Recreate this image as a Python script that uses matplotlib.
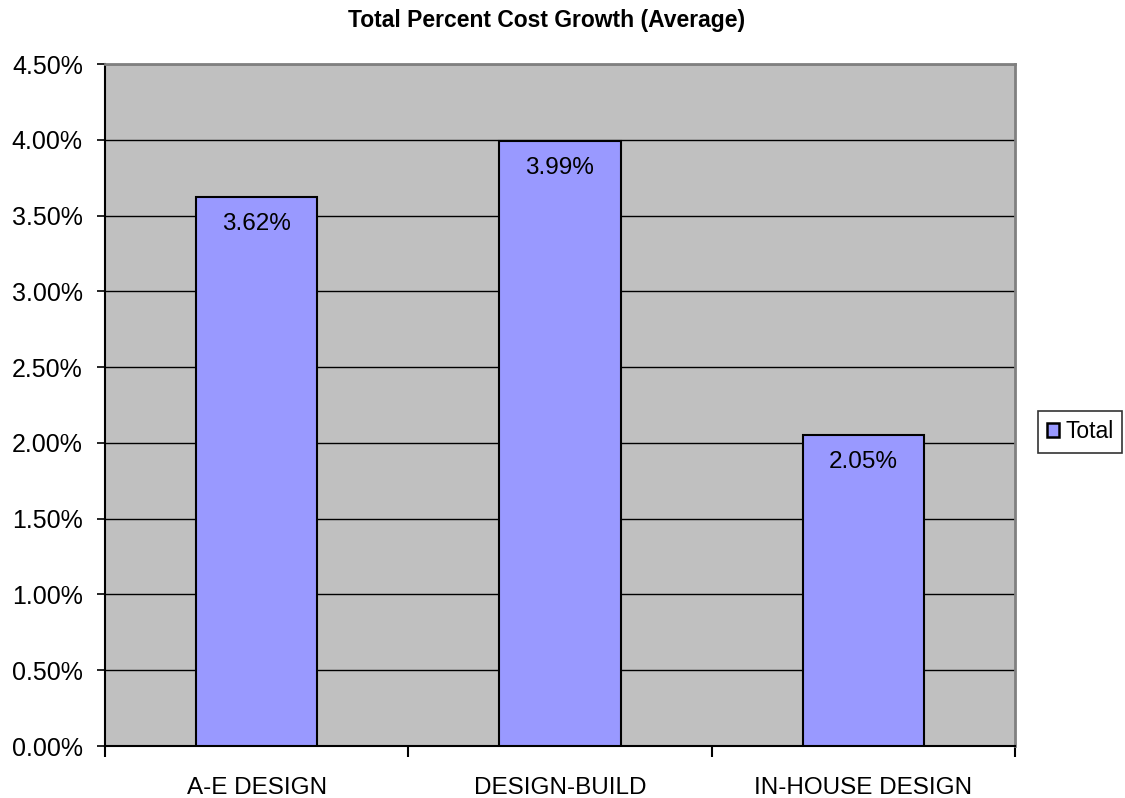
import matplotlib
matplotlib.use("Agg")
import matplotlib.pyplot as plt
from matplotlib.ticker import FixedLocator, FuncFormatter
from matplotlib.patches import Patch

categories = ["A-E DESIGN", "DESIGN-BUILD", "IN-HOUSE DESIGN"]
values = [3.62, 3.99, 2.05]
yticks = [0.0, 0.5, 1.0, 1.5, 2.0, 2.5, 3.0, 3.5, 4.0, 4.5]
title = "Total Percent Cost Growth (Average)"
series_name = "Total"

plt.rcParams["font.family"] = ["Liberation Sans", "DejaVu Sans"]

fig = plt.figure(figsize=(11.25, 7.98), dpi=100)
ax = fig.add_axes([105 / 1125, 1 - 746 / 798, 910 / 1125, 682 / 798])
ax.set_facecolor("#C0C0C0")

x = list(range(len(categories)))
bars = ax.bar(x, values, width=0.4, color="#9999FF", edgecolor="black",
              linewidth=1.5, zorder=3)

ax.set_xlim(-0.5, len(categories) - 0.5)
ax.set_ylim(0, 4.5)
ax.yaxis.set_major_locator(FixedLocator(yticks))
ax.yaxis.set_major_formatter(FuncFormatter(lambda v, p: f"{v:.2f}%"))
ax.grid(axis="y", color="black", linewidth=1.0, zorder=1)

# category labels centred under bars, tick marks on category boundaries
ax.set_xticks(x)
ax.set_xticklabels(categories, fontsize=17.5)
ax.tick_params(axis="x", which="major", length=0, pad=22)
ax.xaxis.set_minor_locator(FixedLocator([i - 0.5 for i in range(len(categories) + 1)]))
ax.tick_params(axis="x", which="minor", length=8, width=1.5, color="black")
ax.tick_params(axis="y", labelsize=18, length=6, width=1.2, color="black", pad=10)

for side in ("top", "right"):
    ax.spines[side].set_color("#808080")
    ax.spines[side].set_linewidth(2)
for side in ("left", "bottom"):
    ax.spines[side].set_color("black")
    ax.spines[side].set_linewidth(1.5)

for b, v in zip(bars, values):
    ax.annotate(f"{v:.2f}%", xy=(b.get_x() + b.get_width() / 2, v),
                xytext=(0, -27), textcoords="offset pixels",
                ha="center", va="center", fontsize=17.5, zorder=4)

fig.text(547 / 1125, 1 - 20 / 798, title, ha="center", va="center",
         fontsize=16.5, fontweight="bold")

leg = fig.legend(handles=[Patch(facecolor="#9999FF", edgecolor="black",
                                linewidth=1.8, label=series_name)],
                 loc="center", bbox_to_anchor=(1080 / 1125, 1 - 432 / 798),
                 fontsize=16.5, frameon=True, fancybox=False,
                 handlelength=0.55, handleheight=0.55, handletextpad=0.25,
                 borderpad=0.4, borderaxespad=0)
leg.get_frame().set_edgecolor("black")
leg.get_frame().set_linewidth(1.2)

fig.savefig("out.png", dpi=100)
